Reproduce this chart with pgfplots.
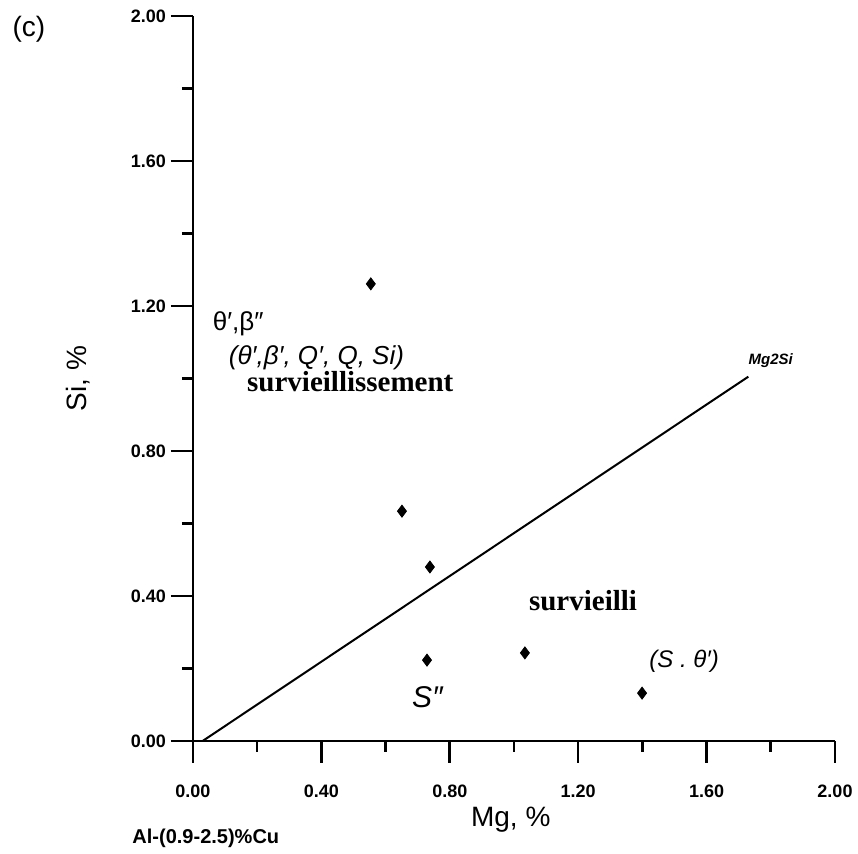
\documentclass[border=0pt]{standalone}
\usepackage{pgfplots}
\pgfplotsset{compat=1.18}
\usepackage{fontspec}
\setmainfont{Liberation Sans}
\newfontfamily\tnr{Liberation Serif}

\begin{document}
\begin{tikzpicture}
\useasboundingbox (-96.5pt,-56.5pt) rectangle (332.5pt,370.5pt);
\begin{axis}[
    scale only axis,
    width=321pt, height=362.5pt,
    xmin=0, xmax=2, ymin=0, ymax=2,
    axis lines*=left,
    axis line style={line width=1.3pt},
    xtick={0,0.4,...,2.01}, ytick={0,0.4,...,2.01},
    minor tick num=1,
    tick align=outside,
    major tick length=11pt, minor tick length=5.5pt,
    tick style={line width=1.3pt, black},
    xticklabel style={font=\fontsize{9}{10}\selectfont\bfseries, yshift=-7.5pt},
    yticklabel style={font=\fontsize{9}{10}\selectfont\bfseries, xshift=1pt},
    /pgf/number format/assume math mode=true,
    /pgf/number format/fixed, /pgf/number format/fixed zerofill,
    /pgf/number format/precision=2,
    xlabel={Mg, \%}, ylabel={Si, \%},
    label style={font=\fontsize{14}{16}\selectfont},
    xlabel style={at={(axis description cs:0.495,-0.109)}, anchor=center},
    ylabel style={at={(axis description cs:-0.179,0.5)}, anchor=center},
    clip=false,
]
% Mg2Si line
\addplot[black, line width=1pt] coordinates {(0.03,0) (1.73,1.005)};
% alloy compositions
\addplot[only marks, mark=diamond*, mark size=3pt, black] coordinates {
    (0.554,1.261) (0.651,0.634) (0.738,0.480)
    (0.729,0.223) (1.034,0.243) (1.399,0.132)
};
\node[font=\fontsize{7.5}{8}\selectfont\bfseries\itshape] at (axis cs:1.80,1.05) {Mg2Si};
\node[anchor=west, font=\fontsize{13}{15}\selectfont] at (axis cs:0.04,1.15) {θ′,β″};
\node[anchor=west, font=\fontsize{13}{15}\selectfont\itshape] at (axis cs:0.09,1.057) {(θ′,β′, Q′, Q, Si)};
\node[font=\tnr\fontsize{14.5}{16}\selectfont\bfseries] at (axis cs:0.49,0.99) {survieillissement};
\node[font=\tnr\fontsize{14.5}{16}\selectfont\bfseries] at (axis cs:1.215,0.386) {survieilli};
\node[font=\fontsize{12}{14}\selectfont\itshape] at (axis cs:1.53,0.22) {(S . θ′)};
\node[font=\fontsize{15}{17}\selectfont\itshape] at (axis cs:0.73,0.12) {S″};
\node[font=\fontsize{10}{12}\selectfont\bfseries] at (axis cs:0.04,-0.268) {Al-(0.9-2.5)\%Cu};
\node[font=\fontsize{14}{16}\selectfont] at (axis cs:-0.511,1.964) {(c)};
\end{axis}
\end{tikzpicture}
\end{document}
